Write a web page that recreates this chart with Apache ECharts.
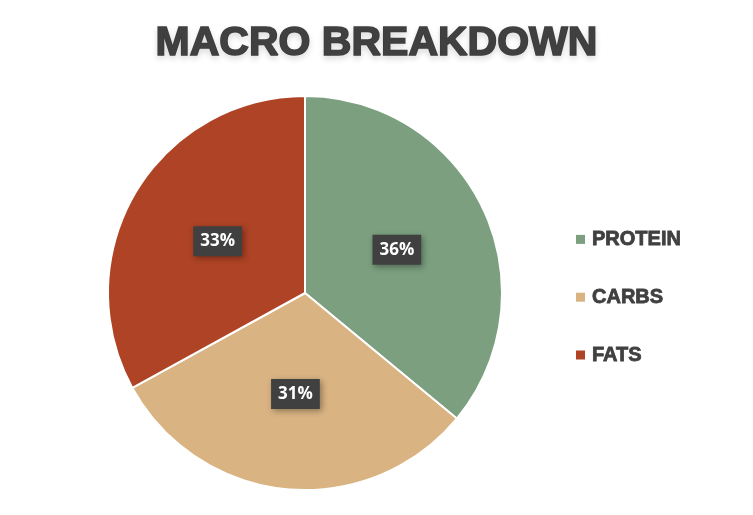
<!DOCTYPE html>
<html>
<head>
<meta charset="utf-8">
<script src="https://cdn.jsdelivr.net/npm/echarts@6/dist/echarts.min.js"></script>
<style>
html,body{margin:0;padding:0;background:#fff;}
#c{width:753px;height:515px;}
</style>
</head>
<body>
<div id="c"></div>
<script>
const categories = ['PROTEIN', 'CARBS', 'FATS'];
const values = [36, 31, 33];
const colors = ['#7b9f7f', '#d9b382', '#ae4325'];

const chart = echarts.init(document.getElementById('c'), null, {renderer: 'canvas'});
chart.setOption({
  backgroundColor: '#ffffff',
  animation: false,
  color: colors,
  title: {
    text: 'MACRO BREAKDOWN',
    left: 'center',
    top: 23,
    padding: 0,
    textStyle: {
      fontFamily: 'Liberation Sans, Arial, sans-serif',
      fontWeight: 'bold',
      fontSize: 41,
      color: '#404040',
      textBorderColor: '#404040',
      textBorderWidth: 1.6,
      textShadowColor: 'rgba(0,0,0,0.12)',
      textShadowBlur: 6,
      textShadowOffsetY: 3
    }
  },
  legend: {
    orient: 'vertical',
    left: 576,
    top: 229,
    padding: 0,
    itemWidth: 9,
    itemHeight: 9,
    itemGap: 37,
    icon: 'rect',
    itemStyle: {borderWidth: 0},
    data: categories,
    textStyle: {
      fontFamily: 'Liberation Sans, Arial, sans-serif',
      fontWeight: 'bold',
      fontSize: 20,
      color: '#404040',
      textBorderColor: '#404040',
      textBorderWidth: 0.8,
      padding: [0, 0, 0, 2]
    }
  },
  series: [{
    type: 'pie',
    center: [305, 293],
    radius: [0, 197],
    startAngle: 90,
    clockwise: true,
    itemStyle: {borderColor: '#ffffff', borderWidth: 2},
    label: {
      show: true,
      position: 'inside',
      formatter: '{c}%',
      fontFamily: 'Open Sans, DejaVu Sans, sans-serif',
      fontWeight: 'bold',
      fontSize: 17,
      color: '#ffffff',
      backgroundColor: '#404040',
      padding: [7, 7, 6, 7],
      shadowColor: 'rgba(0,0,0,0.35)',
      shadowBlur: 6,
      shadowOffsetX: 2,
      shadowOffsetY: 2
    },
    labelLine: {show: false},
    data: categories.map((n, i) => ({name: n, value: values[i]}))
  }]
});
</script>
</body>
</html>
